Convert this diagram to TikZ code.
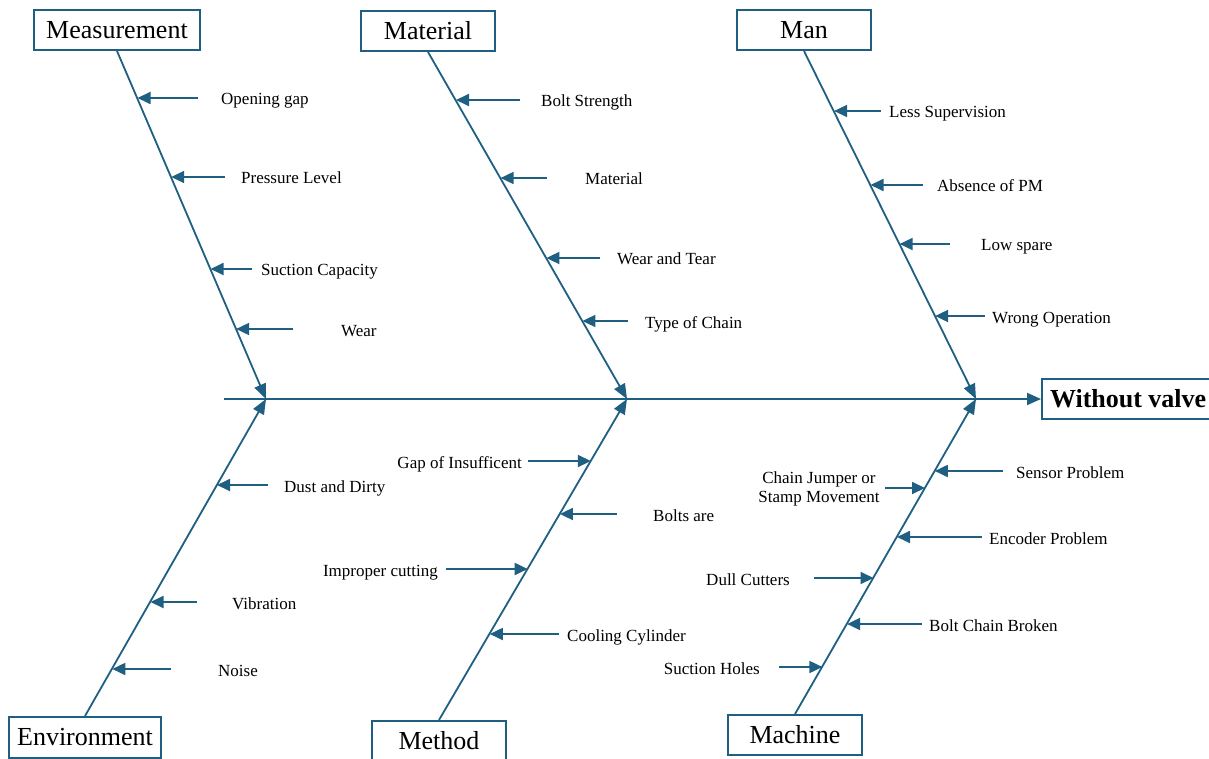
\documentclass[tikz,border=0pt]{standalone}
\usepackage{fontspec}
\setmainfont{Liberation Serif}
\usetikzlibrary{arrows.meta}
\definecolor{bone}{RGB}{31,96,130}
\begin{document}
\begin{tikzpicture}[x=1pt,y=-1pt,
  cat/.style={draw=bone,line width=2pt,minimum width=134pt,minimum height=40pt,inner sep=0pt,font=\fontsize{26}{28}\selectfont},
  lab/.style={inner sep=0pt,font=\fontsize{17}{19}\selectfont,text height=15pt,text depth=1pt},
  bonel/.style={draw=bone,line width=1.8pt,-{Triangle[length=15pt,width=12pt]}},
  sub/.style={draw=bone,line width=1.8pt,-{Triangle[length=13pt,width=12pt]}},
]
\useasboundingbox (0,0) rectangle (1209,759);
\clip (0,0) rectangle (1209,759);

% category boxes
\node[cat,minimum width=166pt] (meas) at (117,30) {Measurement};
\node[cat] (mat) at (428,31) {Material};
\node[cat] (man) at (804,30) {Man};
\node[cat,minimum width=152pt,minimum height=41pt] (env) at (85,737.5) {Environment};
\node[cat] (meth) at (439,741) {Method};
\node[cat] (mach) at (795,735) {Machine};
\node[draw=bone,line width=2pt,minimum height=40pt,inner xsep=8pt,anchor=west,
      font=\fontsize{26}{28}\selectfont\bfseries] (eff) at (1041,399) {Without valve};

% spine
\coordinate (stail) at (224,399);
\coordinate (j1) at (266,399);
\coordinate (j2) at (627,399);
\coordinate (j3) at (976,399);
\draw[bonel,line width=2pt,-{Triangle[length=14pt,width=12pt]}] (stail) -- (eff.west);

% bones
\draw[bonel] (meas.south) -- (j1);
\draw[bonel] (mat.south) -- (j2);
\draw[bonel] (man.south) -- (j3);
\draw[bonel] (env.north) -- (j1);
\draw[bonel] (meth.north) -- (j2);
\draw[bonel] (mach.north) -- (j3);

% arrows pointing left, label to the right
\foreach \n/\y/\t/\h/\lx/\txt in {
  a/98/198/137.5/221/Opening gap,
  b/177/225/171.2/241/Pressure Level,
  c/269/252/210.5/261/Suction Capacity,
  d/329/293/236.1/341/Wear,
  e/100/520/456.0/541/Bolt Strength,
  f/178/547/500.6/585/Material,
  g/258/600/546.4/617/Wear and Tear,
  h/321/628/582.4/645/Type of Chain,
  i/111/881/834.1/889/Less Supervision,
  j/185/923/870.5/937/Absence of PM,
  k/244/950/899.6/981/Low spare,
  l/316/985/935.1/992/Wrong Operation,
  m/485/268/217.0/284/Dust and Dirty,
  n/602/197/150.5/232/Vibration,
  o/669/171/112.3/218/Noise,
  p/514/617/559.9/653/Bolts are,
  q/634/559/489.8/567/Cooling Cylinder,
  r/471/1003/934.8/1016/Sensor Problem,
  s/537/982/897.0/989/Encoder Problem,
  t/624/922/847.1/929/Bolt Chain Broken}
{
  \coordinate (t\n) at (\t,\y);
  \coordinate (h\n) at (\h,\y);
  \draw[sub] (t\n) -- (h\n);
  \node[lab,anchor=west] (l\n) at (\lx,\y) {\txt};
}

% arrows pointing right, label to the left
\foreach \n/\y/\t/\h/\lx/\txt in {
  u/461/528/590.8/522/Gap of Insufficent,
  v/569/446/527.7/438/Improper cutting,
  w/578/814/873.5/790/Dull Cutters,
  x/667/779/822.4/760/Suction Holes}
{
  \coordinate (t\n) at (\t,\y);
  \coordinate (h\n) at (\h,\y);
  \draw[sub] (t\n) -- (h\n);
  \node[lab,anchor=east] (l\n) at (\lx,\y) {\txt};
}

\coordinate (ty) at (885,488);
\coordinate (hy) at (925,488);
\draw[sub] (ty) -- (hy);
\node[inner sep=0pt,align=center,font=\fontsize{17}{19}\selectfont] (ly) at (819,489) {Chain Jumper or\\Stamp Movement};
\end{tikzpicture}
\end{document}
